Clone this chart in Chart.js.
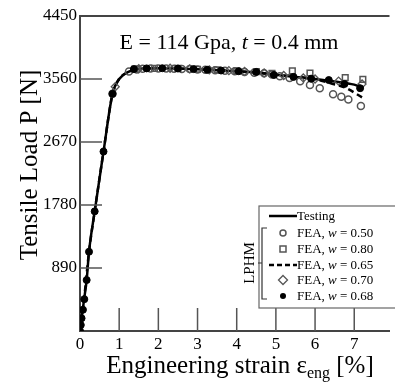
<!DOCTYPE html>
<html>
<head>
<meta charset="utf-8">
<script src="https://cdn.jsdelivr.net/npm/chart.js@4/dist/chart.umd.min.js"></script>
<style>
  html, body { margin: 0; padding: 0; background: #fff; }
  #wrap { width: 395px; height: 382px; position: relative; }
</style>
</head>
<body>
<div id="wrap"><canvas id="c"></canvas></div>
<script>
// axis ticks
const xTicks = [0, 1, 2, 3, 4, 5, 6, 7];
const yTicks = [0, 890, 1780, 2670, 3560, 4450];

// Testing (solid line)
const testStrain = [0, 0.04, 0.1, 0.17, 0.23, 0.375, 0.6, 0.83, 1.0, 1.25, 1.5, 2.0, 2.5, 3.0, 3.5, 4.0, 4.5, 5.0, 5.5, 6.0, 6.5, 7.0, 7.2];
const testLoad   = [0, 170, 430, 720, 1120, 1690, 2535, 3350, 3560, 3665, 3700, 3712, 3710, 3697, 3683, 3670, 3655, 3620, 3590, 3560, 3525, 3480, 3440];

// FEA w = 0.50 (open circles)
const w50Strain = [0.83, 1.25, 1.45, 1.6, 1.8, 2.0, 2.2, 2.4, 2.6, 2.8, 3.0, 3.2, 3.45, 3.7, 3.95, 4.2, 4.45, 4.7, 4.9, 5.1, 5.35, 5.62, 5.87, 6.12, 6.46, 6.67, 6.85, 7.17];
const w50Load   = [3350, 3665, 3695, 3705, 3710, 3710, 3708, 3705, 3702, 3700, 3695, 3690, 3682, 3675, 3668, 3660, 3650, 3640, 3622, 3600, 3575, 3528, 3476, 3429, 3344, 3310, 3272, 3178];

// FEA w = 0.80 (open squares)
const w80Strain = [1.4, 1.9, 2.5, 3.0, 3.5, 4.0, 4.5, 4.9, 5.42, 5.87, 6.77, 7.22];
const w80Load   = [3700, 3710, 3710, 3698, 3690, 3675, 3665, 3640, 3675, 3645, 3580, 3555];

// FEA w = 0.65 (dashed line)
const w65Strain = [0, 0.1, 0.23, 0.375, 0.6, 0.83, 1.0, 1.25, 1.5, 2.0, 3.0, 4.0, 5.0, 6.0, 6.4, 6.8, 7.2];
const w65Load   = [0, 430, 1120, 1690, 2535, 3350, 3560, 3665, 3700, 3712, 3697, 3670, 3620, 3555, 3500, 3430, 3300];

// FEA w = 0.70 (open diamonds)
const w70Strain = [0.9, 1.5, 2.3, 2.8, 3.3, 3.8, 4.2, 4.7, 5.2, 5.7, 6.0, 6.6, 7.2];
const w70Load   = [3450, 3705, 3712, 3702, 3690, 3678, 3668, 3645, 3610, 3575, 3560, 3530, 3490];

// FEA w = 0.68 (filled circles)
const w68Strain = [0, 0.02, 0.04, 0.075, 0.11, 0.17, 0.23, 0.375, 0.6, 0.83, 1.375, 1.7, 2.1, 2.5, 2.9, 3.25, 3.6, 4.05, 4.5, 4.95, 5.45, 5.9, 6.35, 6.75, 7.15];
const w68Load   = [0, 85, 180, 300, 450, 720, 1120, 1690, 2535, 3350, 3700, 3710, 3712, 3708, 3700, 3690, 3680, 3670, 3660, 3617, 3590, 3565, 3545, 3490, 3430];

const pts = (xs, ys) => xs.map((x, i) => ({ x, y: ys[i] }));
const SERIF = '"Liberation Serif", "DejaVu Serif", serif';
const axisColor = '#444';

// draws the frame, inward ticks, texts and the legend
const decor = {
  id: 'decor',
  afterDraw(chart) {
    const { ctx, chartArea: a, scales: { x, y } } = chart;
    ctx.save();

    // top frame line
    ctx.strokeStyle = axisColor;
    ctx.lineWidth = 2;
    ctx.beginPath();
    ctx.moveTo(a.left, a.top);
    ctx.lineTo(a.right, a.top);
    ctx.stroke();

    // inward ticks
    ctx.lineWidth = 1.5;
    ctx.strokeStyle = '#555';
    xTicks.slice(1).forEach(v => {
      const px = x.getPixelForValue(v);
      ctx.beginPath();
      ctx.moveTo(px, a.bottom);
      ctx.lineTo(px, a.bottom - 23);
      ctx.stroke();
    });
    yTicks.slice(1, -1).forEach(v => {
      const py = y.getPixelForValue(v);
      ctx.beginPath();
      ctx.moveTo(a.left, py);
      ctx.lineTo(a.left + 22, py);
      ctx.stroke();
    });

    ctx.fillStyle = '#000';
    ctx.textBaseline = 'alphabetic';

    // header text
    drawPieces(ctx, [
      ['E = 114 Gpa, ', 'normal 22px'],
      ['t', 'italic 22px'],
      [' = 0.4 mm', 'normal 22px']
    ], 229, 49);

    // x title with subscript
    const parts = [
      ['Engineering strain \u03b5', 'normal 25px', 0],
      ['eng', 'normal 16px', 5],
      [' [%]', 'normal 25px', 0]
    ];
    let tw = 0;
    parts.forEach(p => { ctx.font = p[1] + ' ' + SERIF; tw += ctx.measureText(p[0]).width; });
    let cx = 240 - tw / 2;
    ctx.textAlign = 'left';
    parts.forEach(p => {
      ctx.font = p[1] + ' ' + SERIF;
      ctx.fillText(p[0], cx, 373 + p[2]);
      cx += ctx.measureText(p[0]).width;
    });

    // y title
    ctx.save();
    ctx.translate(37, 165);
    ctx.rotate(-Math.PI / 2);
    ctx.font = 'normal 25px ' + SERIF;
    ctx.textAlign = 'center';
    ctx.fillText('Tensile Load P [N]', 0, 0);
    ctx.restore();

    drawLegend(ctx);
    ctx.restore();
  }
};

function drawPieces(ctx, pieces, centerX, baseY) {
  let w = 0;
  pieces.forEach(p => { ctx.font = p[1] + ' ' + SERIF; w += ctx.measureText(p[0]).width; });
  let px = centerX - w / 2;
  ctx.textAlign = 'left';
  pieces.forEach(p => {
    ctx.font = p[1] + ' ' + SERIF;
    ctx.fillText(p[0], px, baseY);
    px += ctx.measureText(p[0]).width;
  });
  return px;
}

function drawLegend(ctx) {
  // box
  ctx.fillStyle = '#fff';
  ctx.fillRect(259, 206, 140, 102);
  ctx.strokeStyle = '#666';
  ctx.lineWidth = 1.2;
  ctx.strokeRect(259, 206, 140, 102);

  const rows = [
    { label: 'Testing', y: 216, kind: 'line' },
    { label: '0.50', y: 233, kind: 'circle' },
    { label: '0.80', y: 249, kind: 'square' },
    { label: '0.65', y: 265, kind: 'dash' },
    { label: '0.70', y: 280, kind: 'diamond' },
    { label: '0.68', y: 296, kind: 'dot' }
  ];
  const sx = 283;
  rows.forEach(r => {
    ctx.strokeStyle = '#000';
    ctx.fillStyle = '#000';
    if (r.kind === 'line' || r.kind === 'dash') {
      ctx.lineWidth = 2.5;
      ctx.setLineDash(r.kind === 'dash' ? [5, 3] : []);
      ctx.beginPath();
      ctx.moveTo(269, r.y);
      ctx.lineTo(297, r.y);
      ctx.stroke();
      ctx.setLineDash([]);
    } else if (r.kind === 'circle') {
      ctx.strokeStyle = '#555';
      ctx.lineWidth = 1.5;
      ctx.beginPath();
      ctx.arc(sx, r.y, 3, 0, Math.PI * 2);
      ctx.stroke();
    } else if (r.kind === 'square') {
      ctx.strokeStyle = '#555';
      ctx.lineWidth = 1.5;
      ctx.strokeRect(sx - 3, r.y - 3, 6, 6);
    } else if (r.kind === 'diamond') {
      ctx.strokeStyle = '#555';
      ctx.lineWidth = 1.3;
      ctx.beginPath();
      ctx.moveTo(sx, r.y - 4.5);
      ctx.lineTo(sx + 4.5, r.y);
      ctx.lineTo(sx, r.y + 4.5);
      ctx.lineTo(sx - 4.5, r.y);
      ctx.closePath();
      ctx.stroke();
    } else {
      ctx.beginPath();
      ctx.arc(sx, r.y, 3, 0, Math.PI * 2);
      ctx.fill();
    }
    ctx.fillStyle = '#000';
    ctx.textAlign = 'left';
    if (r.kind === 'line') {
      ctx.font = '13px ' + SERIF;
      ctx.fillText(r.label, 297, r.y + 4);
    } else {
      const pieces = [['FEA, ', '13px'], ['w', 'italic 13px'], [' = ' + r.label, '13px']];
      let px = 297;
      pieces.forEach(p => {
        ctx.font = p[1] + ' ' + SERIF;
        ctx.fillText(p[0], px, r.y + 4);
        px += ctx.measureText(p[0]).width;
      });
    }
  });

  // LPHM bracket
  ctx.strokeStyle = '#333';
  ctx.lineWidth = 1.2;
  ctx.beginPath();
  ctx.moveTo(267, 228);
  ctx.lineTo(262, 228);
  ctx.lineTo(262, 299);
  ctx.lineTo(267, 299);
  ctx.moveTo(262, 263);
  ctx.lineTo(258, 263);
  ctx.stroke();

  ctx.save();
  ctx.translate(254, 263);
  ctx.rotate(-Math.PI / 2);
  ctx.font = '15px ' + SERIF;
  ctx.textAlign = 'center';
  ctx.fillStyle = '#000';
  ctx.fillText('LPHM', 0, 0);
  ctx.restore();
}

const markerColor = '#555';

new Chart(document.getElementById('c'), {
  type: 'scatter',
  data: {
    datasets: [
      {
        label: 'Testing', data: pts(testStrain, testLoad), showLine: true,
        borderColor: '#000', borderWidth: 2.5, pointRadius: 0, tension: 0.3,
        cubicInterpolationMode: 'monotone', order: 3
      },
      {
        label: 'FEA, w = 0.65', data: pts(w65Strain, w65Load), showLine: true,
        borderColor: '#000', borderWidth: 2.5, borderDash: [6, 4], pointRadius: 0,
        cubicInterpolationMode: 'monotone', order: 4
      },
      {
        label: 'FEA, w = 0.50', data: pts(w50Strain, w50Load), pointStyle: 'circle',
        pointRadius: 3.5, borderColor: markerColor, borderWidth: 1.5,
        backgroundColor: 'rgba(255,255,255,0)', order: 2
      },
      {
        label: 'FEA, w = 0.80', data: pts(w80Strain, w80Load), pointStyle: 'rect',
        pointRadius: 4, borderColor: markerColor, borderWidth: 1.5,
        backgroundColor: 'rgba(255,255,255,0)', order: 2
      },
      {
        label: 'FEA, w = 0.70', data: pts(w70Strain, w70Load), pointStyle: 'rectRot',
        pointRadius: 4, borderColor: markerColor, borderWidth: 1.3,
        backgroundColor: 'rgba(255,255,255,0)', order: 2
      },
      {
        label: 'FEA, w = 0.68', data: pts(w68Strain, w68Load), pointStyle: 'circle',
        pointRadius: 3.5, borderColor: '#000', borderWidth: 1,
        backgroundColor: '#000', order: 1
      }
    ]
  },
  options: {
    responsive: true,
    maintainAspectRatio: false,
    animation: false,
    layout: { padding: { top: 16, right: 0, left: 0, bottom: 0 } },
    plugins: { legend: { display: false }, tooltip: { enabled: false } },
    scales: {
      x: {
        type: 'linear', min: 0, max: 7.9,
        afterFit: s => { s.height = 51; },
        afterBuildTicks: s => { s.ticks = xTicks.map(v => ({ value: v })); },
        grid: { display: false, drawTicks: false },
        border: { display: true, color: axisColor, width: 2 },
        ticks: { color: '#000', padding: 3, font: { family: SERIF, size: 17 } }
      },
      y: {
        type: 'linear', min: 0, max: 4450,
        afterFit: s => { s.width = 80; },
        afterBuildTicks: s => { s.ticks = yTicks.map(v => ({ value: v })); },
        grid: { display: false, drawTicks: false },
        border: { display: true, color: axisColor, width: 2 },
        ticks: {
          color: '#000', padding: 3, font: { family: SERIF, size: 17 },
          callback: v => v === 0 ? '' : String(v)
        }
      }
    }
  },
  plugins: [decor]
});
</script>
</body>
</html>
